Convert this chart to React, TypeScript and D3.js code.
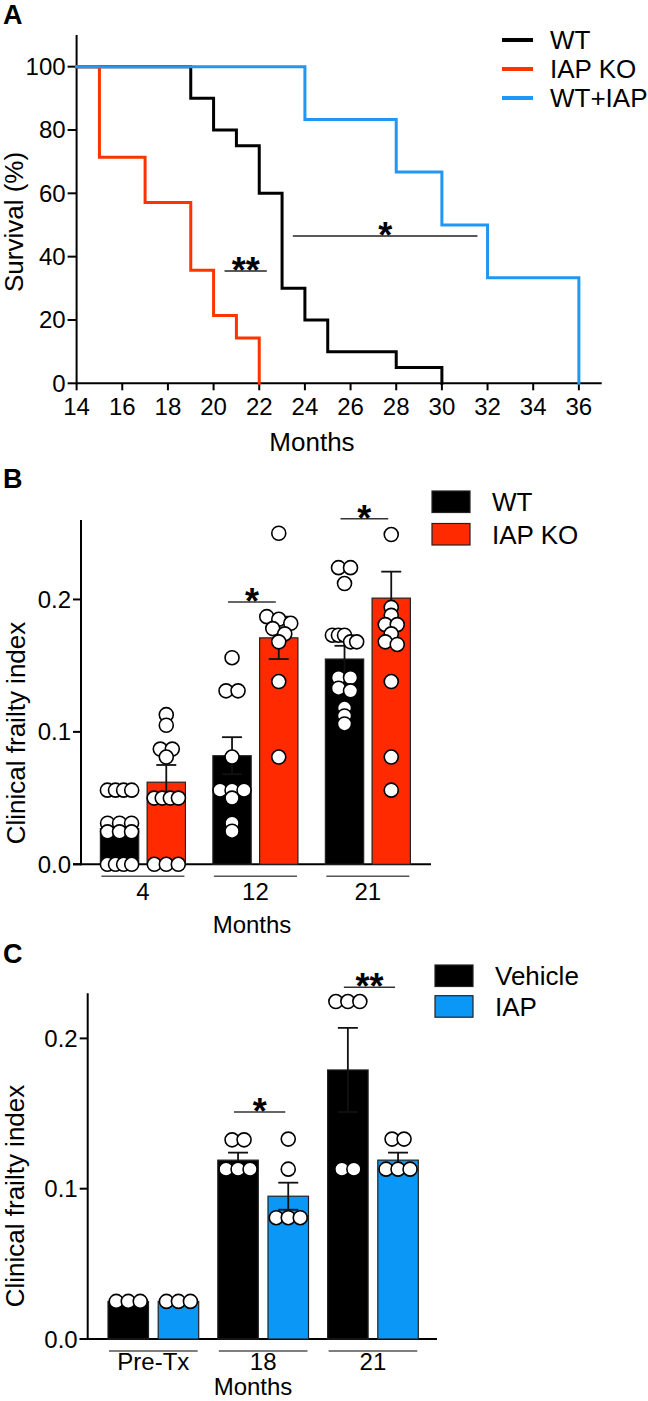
import React from "react";
import * as d3 from "d3";

// A: Kaplan-Meier survival (months, % alive)
const wtMonths = [14, 19, 20, 21, 22, 23, 24, 25, 28, 30];
const wtSurvival = [100, 90, 80, 75, 60, 30, 20, 10, 5, 0];
const koMonths = [14, 15, 17, 19, 20, 21, 22];
const koSurvival = [100, 71.4, 57.1, 35.7, 21.4, 14.3, 0];
const iapMonths = [14, 24, 28, 30, 32, 36];
const iapSurvival = [100, 83.3, 66.7, 50, 33.3, 0];
const survivalTicks = [0, 20, 40, 60, 80, 100];
const monthTicks = d3.range(14, 37, 2);
const survivalLegend = ["WT", "IAP KO", "WT+IAP"];

// B: frailty index, WT vs IAP KO
const groupsB = ["4", "12", "21"];
const seriesB = ["WT", "IAP KO"];
const meanWtB = [0.027, 0.082, 0.155];
const semWtB = [0.006, 0.014, 0.01];
const meanKoB = [0.062, 0.171, 0.201];
const semKoB = [0.013, 0.016, 0.02];
const dotsWtB = [
  [0.056, 0.056, 0.056, 0.056, 0.031, 0.031, 0.031, 0.0245, 0.0245, 0.0245, 0, 0, 0, 0],
  [0.156, 0.131, 0.131, 0.081, 0.056, 0.056, 0.056, 0.05, 0.031, 0.025],
  [0.224, 0.224, 0.212, 0.173, 0.173, 0.173, 0.168, 0.168, 0.141, 0.141, 0.133, 0.131, 0.118, 0.112, 0.106],
];
const dotsKoB = [
  [0.113, 0.105, 0.087, 0.087, 0.081, 0.05, 0.05, 0.05, 0.05, 0, 0, 0],
  [0.25, 0.187, 0.185, 0.182, 0.178, 0.174, 0.168, 0.138, 0.081],
  [0.249, 0.194, 0.188, 0.181, 0.181, 0.174, 0.168, 0.166, 0.138, 0.081, 0.056],
];

// C: frailty index, vehicle vs IAP
const groupsC = ["Pre-Tx", "18", "21"];
const seriesC = ["Vehicle", "IAP"];
const meanVehC = [0.025, 0.119, 0.179];
const semVehC = [0.002, 0.005, 0.028];
const meanIapC = [0.025, 0.095, 0.119];
const semIapC = [0.002, 0.009, 0.005];
const dotsVehC = [
  [0.025, 0.025, 0.025],
  [0.1325, 0.1325, 0.113, 0.113, 0.113],
  [0.2245, 0.2245, 0.2245, 0.113, 0.113],
];
const dotsIapC = [
  [0.025, 0.025, 0.025],
  [0.133, 0.113, 0.0807, 0.0807, 0.0807],
  [0.133, 0.133, 0.113, 0.113, 0.113],
];
const frailtyTicks = [0, 0.1, 0.2];

const FONT = "'Liberation Sans', Arial, Helvetica, sans-serif";
const RED_LINE = "#ff3300";
const BLUE_LINE = "#2196f3";
const RED_BAR = "#ff2a00";
const BLUE_BAR = "#0a97f5";

type Sig = { g: number; v: number; label: string };
type BarCfg = {
  groups: string[];
  series: string[];
  colors: string[];
  means: number[][];
  sems: number[][];
  dots: number[][][];
  yMax: number;
  yBottom: number;
  yTop: number;
  axisX: number;
  axisEnd: number;
  xStart: number;
  xEnd: number;
  groupPad: number;
  subPad: number;
  sig: Sig[];
  legendX: number;
  legendY: number;
  legendGap: number;
  labelY: number;
  monthsX: number;
  monthsY: number;
  titleX: number;
  titleY: number;
  letter: string;
  letterY: number;
};

// lay dots out in rows around the bar centre
function rowLayout(vals: number[], y: (v: number) => number, cx: number, bw: number, r: number) {
  const sorted = [...vals].sort((a, b) => b - a);
  const rows: number[][] = [];
  let cur: number[] = [];
  let startY = 0;
  sorted.forEach((v) => {
    const py = y(v);
    if (cur.length && py - startY < r) cur.push(v);
    else {
      if (cur.length) rows.push(cur);
      cur = [v];
      startY = py;
    }
  });
  if (cur.length) rows.push(cur);
  const out: { x: number; y: number }[] = [];
  rows.forEach((row) => {
    const n = row.length;
    const sp = n > 1 ? Math.min(12, (bw - 2 * r) / (n - 1)) : 0;
    row.forEach((v, i) => out.push({ x: cx + (i - (n - 1) / 2) * sp, y: y(v) }));
  });
  return out;
}

function BarPanel({ c }: { c: BarCfg }) {
  const y = d3.scaleLinear().domain([0, c.yMax]).range([c.yBottom, c.yTop]);
  const x0 = d3.scaleBand<string>().domain(c.groups).range([c.xStart, c.xEnd]).paddingInner(c.groupPad).paddingOuter(0);
  const x1 = d3.scaleBand<string>().domain(c.series).range([0, x0.bandwidth()]).paddingInner(c.subPad).paddingOuter(0);
  const bw = x1.bandwidth();
  const r = 7;
  const barCx = (g: number, s: number) => (x0(c.groups[g]) as number) + (x1(c.series[s]) as number) + bw / 2;

  return (
    <g>
      <text x={3} y={c.letterY} fontSize={27} fontWeight="bold" fontFamily={FONT}>{c.letter}</text>
      {/* axes */}
      <line x1={c.axisX} x2={c.axisX} y1={c.yTop} y2={c.yBottom + 1} stroke="#000" strokeWidth={2} />
      <line x1={c.axisX - 8} x2={c.axisEnd} y1={c.yBottom} y2={c.yBottom} stroke="#000" strokeWidth={2} />
      {frailtyTicks.map((t) => (
        <g key={t}>
          <line x1={c.axisX - 8} x2={c.axisX} y1={y(t)} y2={y(t)} stroke="#000" strokeWidth={2} />
          <text x={c.axisX - 10} y={y(t) + 8.5} textAnchor="end" fontSize={24} fontFamily={FONT}>
            {d3.format(".1f")(t)}
          </text>
        </g>
      ))}
      <text
        transform={`translate(${c.titleX},${c.titleY}) rotate(-90)`}
        textAnchor="middle"
        fontSize={26}
        fontFamily={FONT}
      >
        Clinical frailty index
      </text>
      {/* bars */}
      {c.groups.map((g, gi) =>
        c.series.map((s, si) => {
          const x = (x0(g) as number) + (x1(s) as number);
          const m = c.means[si][gi];
          return (
            <rect key={g + s} x={x} y={y(m)} width={bw} height={c.yBottom - y(m)} fill={c.colors[si]} stroke="#222" strokeWidth={1.2} />
          );
        })
      )}
      {/* error bars */}
      {c.groups.map((g, gi) =>
        c.series.map((s, si) => {
          const cx = barCx(gi, si);
          const m = c.means[si][gi];
          const e = c.sems[si][gi];
          return (
            <g key={"e" + g + s} stroke="#111" strokeWidth={1.8}>
              <line x1={cx} x2={cx} y1={y(m - e)} y2={y(m + e)} />
              <line x1={cx - 10} x2={cx + 10} y1={y(m + e)} y2={y(m + e)} />
              <line x1={cx - 10} x2={cx + 10} y1={y(m - e)} y2={y(m - e)} />
            </g>
          );
        })
      )}
      {/* dots */}
      {c.groups.map((g, gi) =>
        c.series.map((s, si) =>
          rowLayout(c.dots[si][gi], y, barCx(gi, si), bw, r).map((p, k) => (
            <circle key={g + s + k} cx={p.x} cy={p.y} r={r} fill="#fff" stroke="#000" strokeWidth={1.6} />
          ))
        )
      )}
      {/* group underlines and labels */}
      {c.groups.map((g) => {
        const gx = x0(g) as number;
        return (
          <g key={"u" + g}>
            <line x1={gx + 1} x2={gx + x0.bandwidth() - 1} y1={c.yBottom + 12} y2={c.yBottom + 12} stroke="#555" strokeWidth={1.5} />
            <text x={gx + x0.bandwidth() / 2} y={c.labelY} textAnchor="middle" fontSize={24} fontFamily={FONT}>{g}</text>
          </g>
        );
      })}
      <text x={c.monthsX} y={c.monthsY} textAnchor="middle" fontSize={24} fontFamily={FONT}>Months</text>
      {/* significance */}
      {c.sig.map((sg) => {
        const a = barCx(sg.g, 0) - 4;
        const b = barCx(sg.g, 1) - 3;
        return (
          <g key={"s" + sg.g}>
            <line x1={a} x2={b} y1={y(sg.v)} y2={y(sg.v)} stroke="#333" strokeWidth={1.5} />
            <text x={(a + b) / 2} y={y(sg.v) + 12} textAnchor="middle" fontSize={36} fontWeight="bold" fontFamily={FONT}>{sg.label}</text>
          </g>
        );
      })}
      {/* legend */}
      {c.series.map((s, si) => {
        const ly = c.legendY + si * c.legendGap;
        return (
          <g key={"l" + s}>
            <rect x={c.legendX} y={ly} width={38} height={21.5} fill={c.colors[si]} stroke="#222" strokeWidth={1.2} />
            <text x={c.legendX + 60} y={ly + 10.75 + 9.3} fontSize={26} fontFamily={FONT}>{s}</text>
          </g>
        );
      })}
    </g>
  );
}

function SurvivalPanel() {
  const x = d3.scaleLinear().domain([14, 37]).range([76.6, 601.7]);
  const y = d3.scaleLinear().domain([0, 110]).range([383.3, 35]);
  const line = d3
    .line<[number, number]>()
    .x((d) => x(d[0]))
    .y((d) => y(d[1]))
    .curve(d3.curveStepAfter);
  const curves = [
    { m: wtMonths, s: wtSurvival, color: "#000" },
    { m: koMonths, s: koSurvival, color: RED_LINE },
    { m: iapMonths, s: iapSurvival, color: BLUE_LINE },
  ];
  const sigs = [
    { a: 20.48, b: 22.33, v: 35.5, label: "**" },
    { a: 23.47, b: 31.56, v: 46.5, label: "*" },
  ];
  return (
    <g>
      <text x={3} y={24} fontSize={27} fontWeight="bold" fontFamily={FONT}>A</text>
      <line x1={x(14)} x2={x(14)} y1={y(110)} y2={y(0) + 1} stroke="#000" strokeWidth={2} />
      <line x1={x(14)} x2={x(37)} y1={y(0)} y2={y(0)} stroke="#000" strokeWidth={2} />
      {survivalTicks.map((t) => (
        <g key={t}>
          <line x1={x(14) - 9} x2={x(14)} y1={y(t)} y2={y(t)} stroke="#000" strokeWidth={2} />
          <text x={x(14) - 11} y={y(t) + 8.5} textAnchor="end" fontSize={24} fontFamily={FONT}>{t}</text>
        </g>
      ))}
      {monthTicks.map((t) => (
        <g key={t}>
          <line x1={x(t)} x2={x(t)} y1={y(0)} y2={y(0) + 7} stroke="#000" strokeWidth={2} />
          <text x={x(t)} y={415} textAnchor="middle" fontSize={24} fontFamily={FONT}>{t}</text>
        </g>
      ))}
      <text x={312} y={451} textAnchor="middle" fontSize={26} fontFamily={FONT}>Months</text>
      <text transform="translate(23,222) rotate(-90)" textAnchor="middle" fontSize={26} fontFamily={FONT}>Survival (%)</text>
      {curves.map((c, i) => (
        <path
          key={i}
          d={line(c.m.map((m, k) => [m, c.s[k]] as [number, number])) || ""}
          fill="none"
          stroke={c.color}
          strokeWidth={3}
          strokeLinejoin="miter"
          strokeLinecap="square"
        />
      ))}
      {sigs.map((s, i) => (
        <g key={i}>
          <line x1={x(s.a)} x2={x(s.b)} y1={y(s.v)} y2={y(s.v)} stroke="#222" strokeWidth={1.5} />
          <text x={(x(s.a) + x(s.b)) / 2} y={y(s.v) + 12} textAnchor="middle" fontSize={36} fontWeight="bold" fontFamily={FONT}>{s.label}</text>
        </g>
      ))}
      {survivalLegend.map((name, i) => (
        <g key={name}>
          <line x1={502} x2={533} y1={40 + i * 29} y2={40 + i * 29} stroke={curves[i].color} strokeWidth={4} />
          <text x={550} y={40 + i * 29 + 9.3} fontSize={26} fontFamily={FONT}>{name}</text>
        </g>
      ))}
    </g>
  );
}

const cfgB: BarCfg = {
  groups: groupsB,
  series: seriesB,
  colors: ["#000", RED_BAR],
  means: [meanWtB, meanKoB],
  sems: [semWtB, semKoB],
  dots: [dotsWtB, dotsKoB],
  yMax: 0.26,
  yBottom: 864.3,
  yTop: 520,
  axisX: 81,
  axisEnd: 431,
  xStart: 100.4,
  xEnd: 410.4,
  groupPad: 0.244,
  subPad: 0.18,
  sig: [
    { g: 1, v: 0.198, label: "*" },
    { g: 2, v: 0.261, label: "*" },
  ],
  legendX: 432,
  legendY: 491,
  legendGap: 32.5,
  labelY: 900,
  monthsX: 252,
  monthsY: 933,
  titleX: 25,
  titleY: 733,
  letter: "B",
  letterY: 488,
};

const cfgC: BarCfg = {
  groups: groupsC,
  series: seriesC,
  colors: ["#000", BLUE_BAR],
  means: [meanVehC, meanIapC],
  sems: [semVehC, semIapC],
  dots: [dotsVehC, dotsIapC],
  yMax: 0.23,
  yBottom: 1339,
  yTop: 993.3,
  axisX: 87.7,
  axisEnd: 437,
  xStart: 108,
  xEnd: 418.3,
  groupPad: 0.174,
  subPad: 0.193,
  sig: [
    { g: 1, v: 0.151, label: "*" },
    { g: 2, v: 0.234, label: "**" },
  ],
  legendX: 435,
  legendY: 965,
  legendGap: 30.7,
  labelY: 1370,
  monthsX: 253,
  monthsY: 1395,
  titleX: 24,
  titleY: 1196,
  letter: "C",
  letterY: 963,
};

export default function App() {
  return (
    <div>
      <style>{`body{margin:0;background:#fff}`}</style>
      <svg width={648} height={1401} viewBox="0 0 648 1401" style={{ display: "block" }}>
        <rect width={648} height={1401} fill="#fff" />
        <SurvivalPanel />
        <BarPanel c={cfgB} />
        <BarPanel c={cfgC} />
      </svg>
    </div>
  );
}
